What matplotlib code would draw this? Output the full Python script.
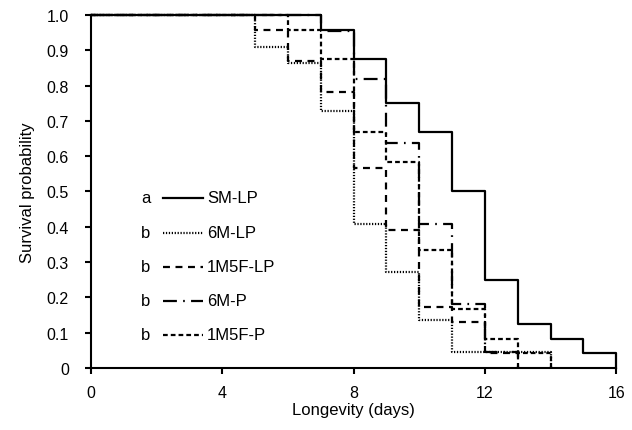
import matplotlib
matplotlib.use("Agg")
import matplotlib.pyplot as plt
from matplotlib.lines import Line2D

plt.rcParams['font.family'] = ['Liberation Sans', 'DejaVu Sans']
plt.rcParams['lines.scale_dashes'] = False

# Kaplan-Meier step data (day of change, survival after change)
sm_lp_days = [0, 7, 8, 9, 10, 11, 12, 13, 14, 15, 16]
sm_lp_surv = [1.0, 0.958, 0.875, 0.75, 0.667, 0.5, 0.25, 0.125, 0.083, 0.042, 0.0]

m6_lp_days = [0, 5, 6, 7, 8, 9, 10, 11, 14]
m6_lp_surv = [1.0, 0.909, 0.864, 0.727, 0.409, 0.273, 0.136, 0.045, 0.0]

m1f5_lp_days = [0, 5, 6, 7, 8, 9, 10, 11, 12, 13]
m1f5_lp_surv = [1.0, 0.957, 0.870, 0.783, 0.565, 0.391, 0.174, 0.130, 0.043, 0.0]

m6_p_days = [0, 7, 8, 9, 10, 11, 12, 13]
m6_p_surv = [1.0, 0.955, 0.818, 0.636, 0.409, 0.182, 0.045, 0.0]

m1f5_p_days = [0, 6, 7, 8, 9, 10, 11, 12, 13, 14]
m1f5_p_surv = [1.0, 0.958, 0.875, 0.667, 0.583, 0.333, 0.167, 0.083, 0.042, 0.0]

labels = ["SM-LP", "6M-LP", "1M5F-LP", "6M-P", "1M5F-P"]
letters = ["a", "b", "b", "b", "b"]
xticks = [0, 4, 8, 12, 16]
yticks = [0, 0.1, 0.2, 0.3, 0.4, 0.5, 0.6, 0.7, 0.8, 0.9, 1.0]
ytick_labels = ["0", "0.1", "0.2", "0.3", "0.4", "0.5", "0.6", "0.7", "0.8", "0.9", "1.0"]

styles = [
    dict(linestyle='-'),
    dict(linestyle=(0, (0.9, 1.2))),
    dict(linestyle=(0, (5.0, 4.0))),
    dict(linestyle=(0, (10.0, 4.5, 1.2, 4.5))),
    dict(linestyle=(0, (3.4, 2.2))),
]
series = [
    (sm_lp_days, sm_lp_surv),
    (m6_lp_days, m6_lp_surv),
    (m1f5_lp_days, m1f5_lp_surv),
    (m6_p_days, m6_p_surv),
    (m1f5_p_days, m1f5_p_surv),
]

FS_TICK = 11.5
FS_LAB = 12
FS_LEG = 12

fig = plt.figure(figsize=(6.32, 4.31), dpi=100)
ax = fig.add_axes([0.144, 0.144, 0.831, 0.819])

for (d, s), st in zip(series, styles):
    ax.step(d, s, where='post', color='black', lw=1.6, clip_on=False, **st)

ax.set_xlim(0, 16)
ax.set_ylim(0, 1.0)
ax.set_xticks(xticks)
ax.set_yticks(yticks)
ax.set_yticklabels(ytick_labels)
for sp in ['top', 'right']:
    ax.spines[sp].set_visible(False)
for sp in ['left', 'bottom']:
    ax.spines[sp].set_linewidth(1.5)
ax.tick_params(direction='out', length=4, width=1.5, labelsize=FS_TICK)
ax.tick_params(axis='y', pad=12)
ax.tick_params(axis='x', pad=8)
ax.set_xlabel("Longevity (days)", fontsize=FS_LAB, labelpad=2)
ax.set_ylabel("Survival probability", fontsize=FS_LAB, labelpad=8)

# manual legend (figure pixel coordinates -> fractions)
W, H = 632.0, 431.0
rows_y = [199, 234, 268, 302, 336]
for lab, let, st, yy in zip(labels, letters, styles, rows_y):
    yf = 1 - yy / H
    fig.text(146 / W, yf, let, fontsize=FS_LEG, ha='center', va='center')
    fig.add_artist(Line2D([163 / W, 203 / W], [yf, yf], color='black', lw=1.6,
                          transform=fig.transFigure, **st))
    fig.text(207 / W, yf, lab, fontsize=FS_LEG, ha='left', va='center')

fig.savefig("out.png", dpi=100)
